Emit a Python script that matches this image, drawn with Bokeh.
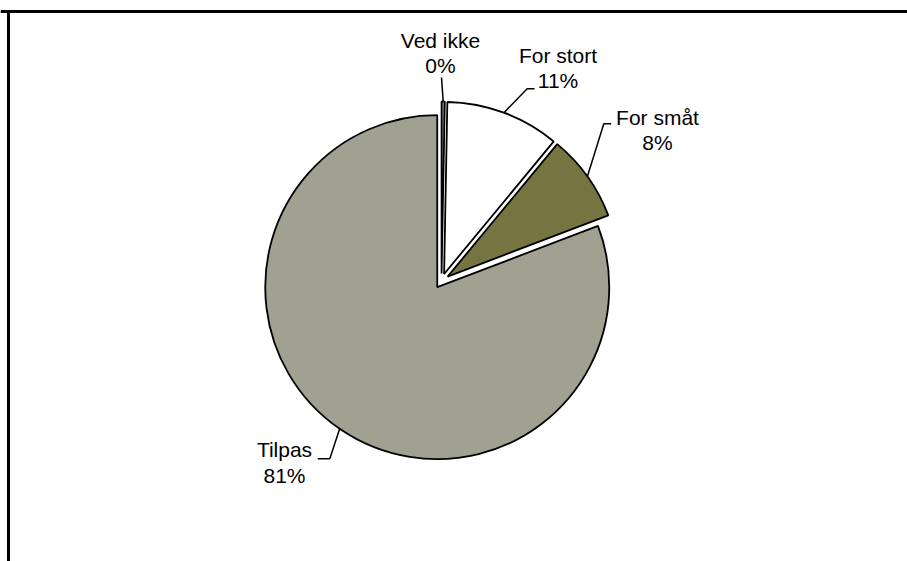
import math
from bokeh.plotting import figure
from bokeh.models import Range1d, Span, ColumnDataSource
from bokeh.core.properties import value
from bokeh.embed import file_html
from bokeh.resources import INLINE

# ---- data ----
categories = ["Ved ikke", "For stort", "For småt", "Tilpas"]
shares = [0.3, 10.7, 8.2, 80.8]          # percent
colors = ["#7F7F7F", "#FFFFFF", "#767441", "#A0A191"]

# ---- layout (page px -> data px) ----
W, H = 907, 561
def px(x):
    return x
def py(y):
    return H - y

cx, cy = px(441), py(280.5)   # pie centre
R = 172                        # radius
EXPLODE = 7.5

p = figure(width=W, height=H, output_backend="svg", toolbar_location=None,
           x_range=Range1d(0, W), y_range=Range1d(0, H), min_border=0)
p.axis.visible = False
p.grid.visible = False
p.outline_line_color = None
p.background_fill_color = "white"

total = sum(shares)
starts, ends, xs_c, ys_c, mids = [], [], [], [], []
acc = 0.0
for v in shares:
    a0 = acc / total * 2 * math.pi          # clockwise from north
    acc += v
    a1 = acc / total * 2 * math.pi
    m = (a0 + a1) / 2
    mids.append(m)
    ox = cx + EXPLODE * math.sin(m)
    oy = cy + EXPLODE * math.cos(m)
    xs_c.append(ox)
    ys_c.append(oy)
    starts.append(math.pi / 2 - a0)
    ends.append(math.pi / 2 - a1)

src = ColumnDataSource(dict(x=xs_c, y=ys_c, s=starts, e=ends, c=colors))
p.wedge(x="x", y="y", radius=R, start_angle="s", end_angle="e",
        direction="clock", fill_color="c", line_color="black",
        line_width=1.8, source=src)

# leader lines: anchor on slice edge -> elbow -> end
elbows = [((441, 77), (441, 77)),
          ((526.7, 88.3), (534, 88.3)),
          ((603.3, 123.3), (610.7, 123.3)),
          ((329.3, 458.3), (317.3, 458.3))]
lx, ly = [], []
for i, m in enumerate(mids):
    ax = xs_c[i] + R * math.sin(m)
    ay = ys_c[i] + R * math.cos(m)
    (e1, e2) = elbows[i]
    lx.append([ax, px(e1[0]), px(e2[0])])
    ly.append([ay, py(e1[1]), py(e2[1])])
p.multi_line(xs=lx, ys=ly, line_color="black", line_width=1.5)

# labels (x centre, y of text middle line 1, line 2)
label_pos = [(440, 40, 64.5), (557.5, 55, 80), (657, 116.5, 141.5), (284, 449, 474.5)]
pcts = [f"{round(v / total * 100)}%" for v in shares]
tx = [px(a) for a, _, _ in label_pos]
p.text(x=tx, y=[py(b) for _, b, _ in label_pos], text=categories,
       text_align="center", text_baseline="middle",
       text_font=value("Liberation Sans"), text_font_size="21px", text_color="black")
p.text(x=tx, y=[py(c) for _, _, c in label_pos], text=pcts,
       text_align="center", text_baseline="middle",
       text_font=value("Liberation Sans"), text_font_size="21px", text_color="black")

# chart-area border (only top and left visible in the crop)
p.segment(x0=[px(8)], y0=[py(9.5)], x1=[px(8)], y1=[0], line_color="black", line_width=3)
p.add_layout(Span(location=py(11), dimension="width", line_color="black", line_width=3))

open("out.html", "w").write(file_html(p, INLINE))
